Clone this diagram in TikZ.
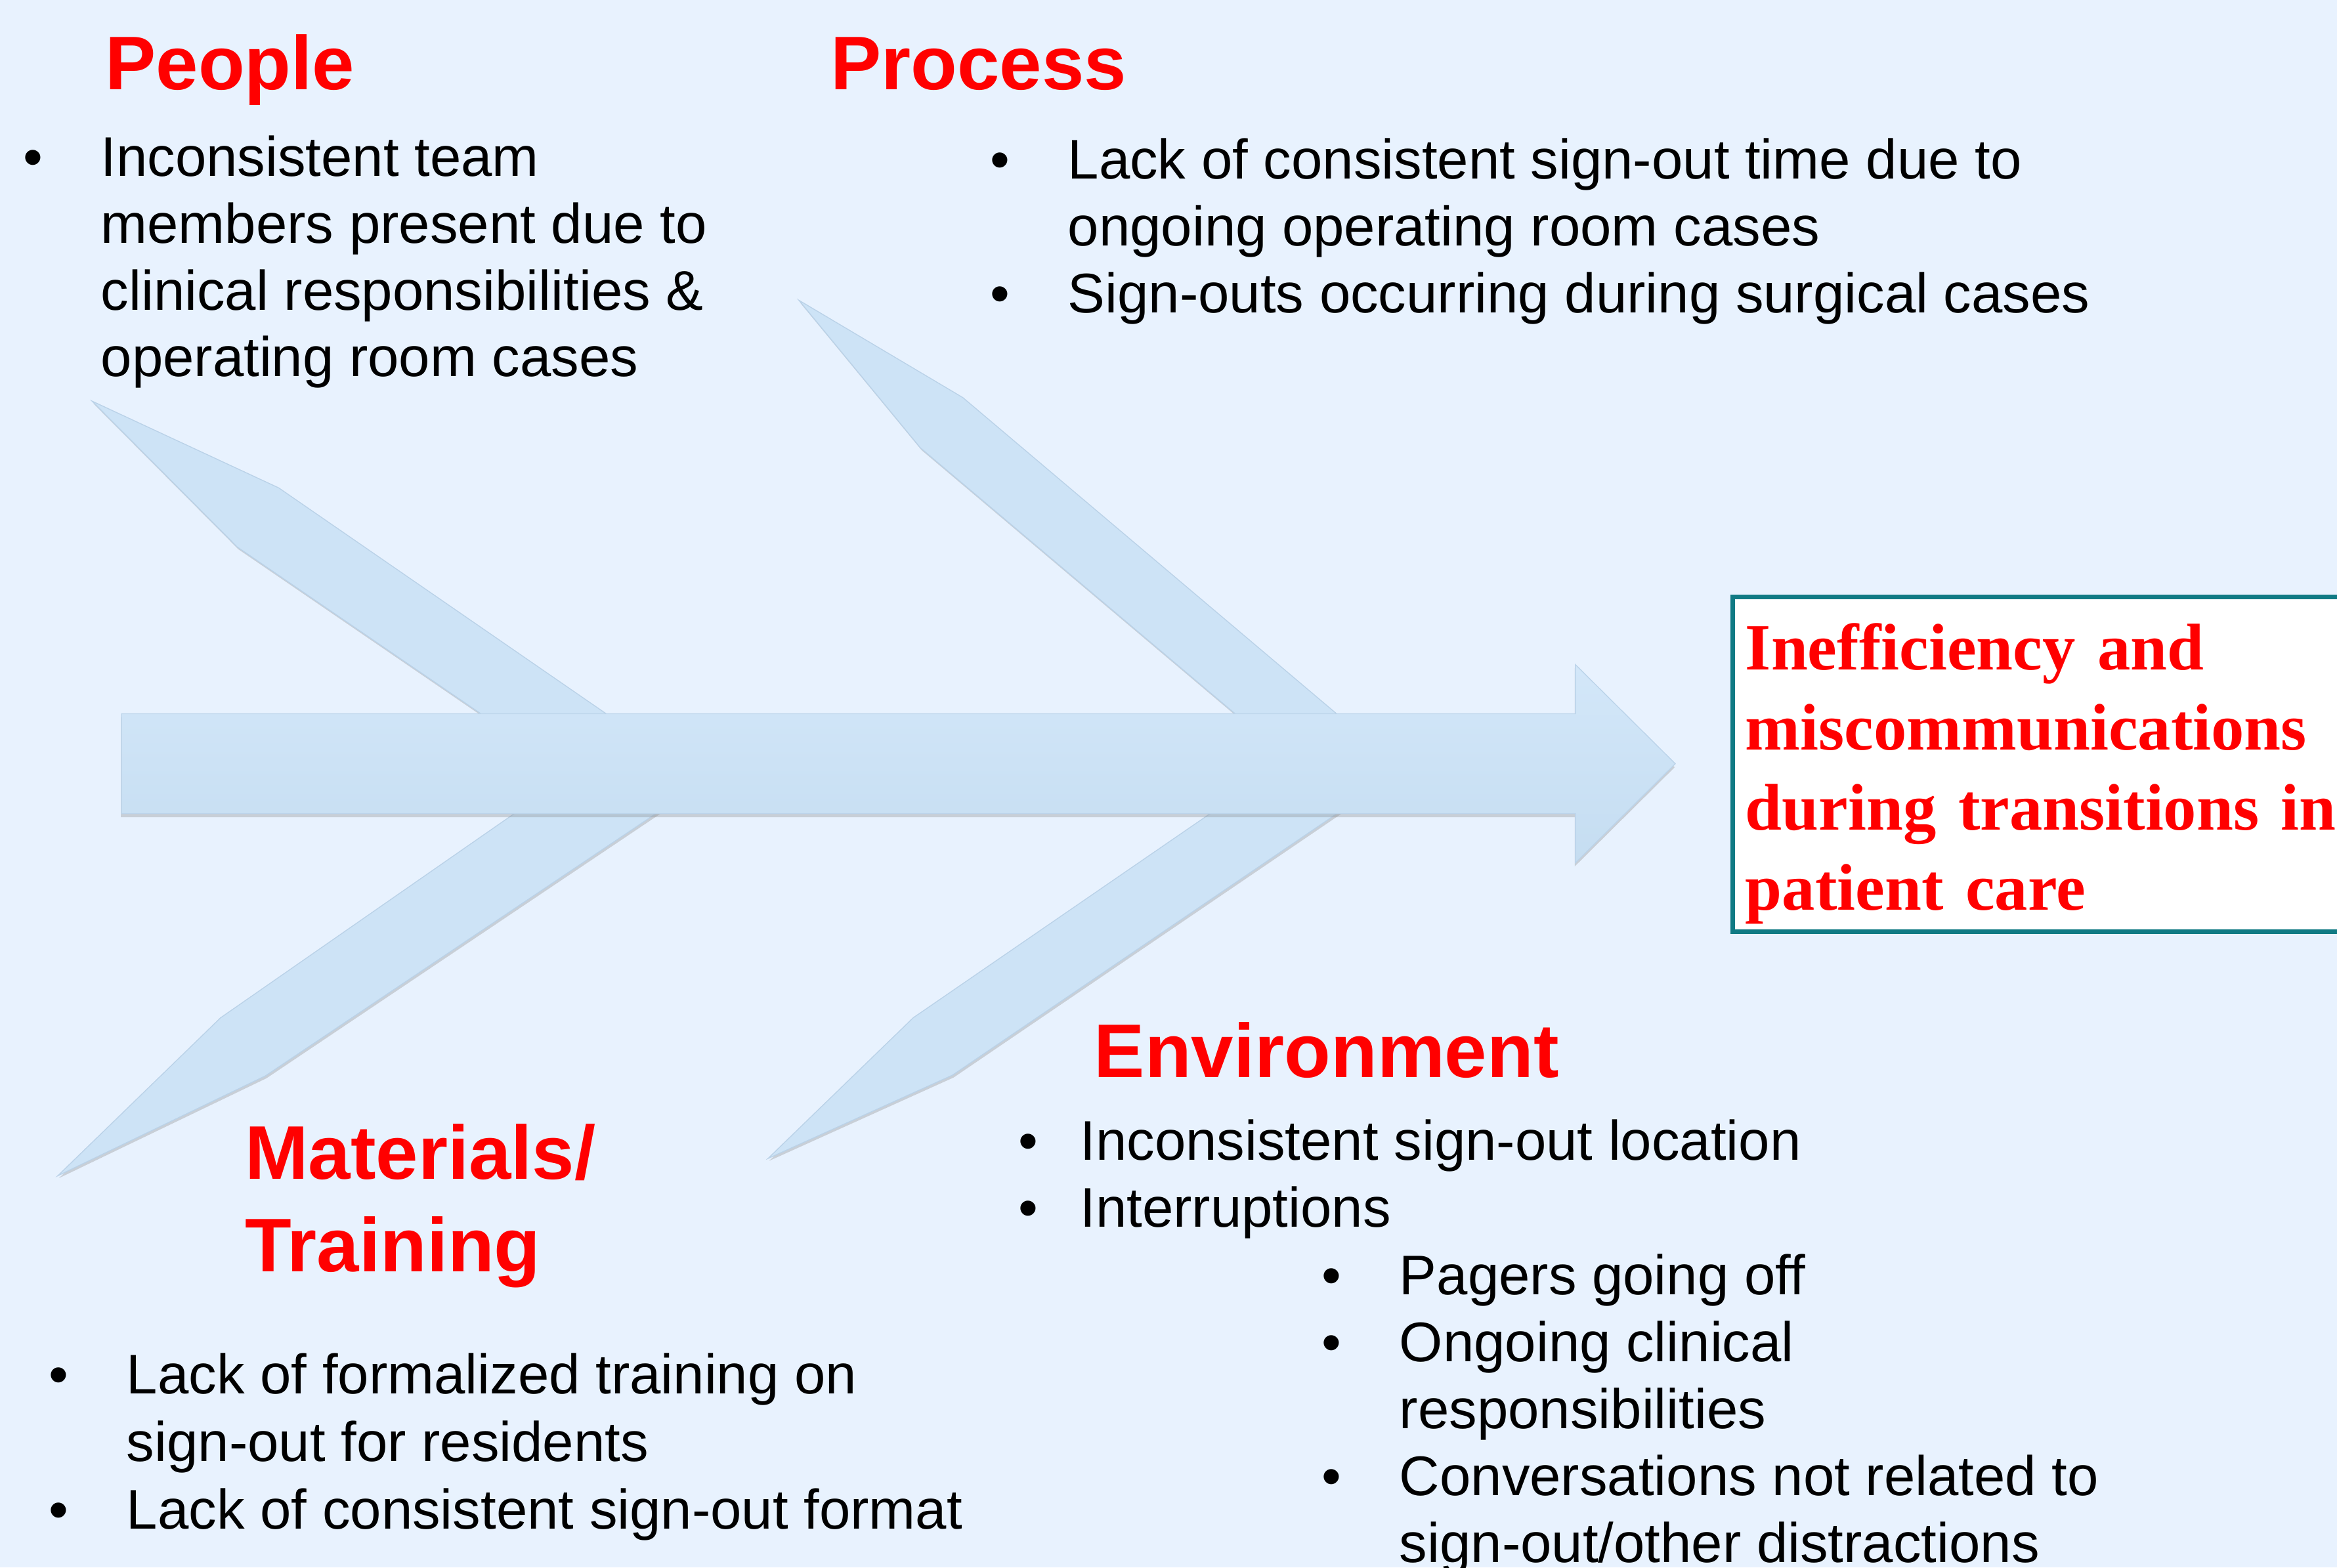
\documentclass[tikz,border=0pt]{standalone}
\usepackage{fontspec}
\setmainfont{Liberation Sans}
\newfontfamily\effectfont{Liberation Serif}
\usetikzlibrary{shadows}

\definecolor{slidebg}{RGB}{232,242,254}
\definecolor{spinetop}{RGB}{211,231,249}
\definecolor{spinebot}{RGB}{197,221,241}
\definecolor{spineedge}{RGB}{188,212,234}
\definecolor{bonefill}{RGB}{205,227,246}
\definecolor{boneedge}{RGB}{186,210,232}
\definecolor{causered}{RGB}{255,0,0}
\definecolor{boxteal}{RGB}{16,122,132}

% bullet and continuation indent for the lists
\newcommand{\bul}{\makebox[26pt][l]{\textbullet}}
\newcommand{\cont}{\hspace*{26pt}}

\tikzset{
  bone/.style={fill=bonefill, draw=boneedge, line width=0.3pt,
    drop shadow={opacity=0.3, shadow xshift=0.4pt, shadow yshift=-0.8pt}},
  spine/.style={top color=spinetop, bottom color=spinebot, draw=spineedge,
    line width=0.3pt,
    drop shadow={opacity=0.3, shadow xshift=-0.2pt, shadow yshift=-1.2pt}},
  cause/.style={font=\bfseries\fontsize{25.5}{31}\selectfont, text=causered,
    inner sep=0pt, anchor=base west, align=left},
  items/.style={font=\fontsize{18.75}{22.4}\selectfont, inner sep=0pt,
    anchor=base west, align=left},
  effectbox/.style={draw=boxteal, line width=1.6pt, fill=white,
    anchor=north west, text width=220pt, align=left, text=causered,
    inner xsep=4.25pt, inner ysep=2.6pt,
    font=\effectfont\bfseries\fontsize{22.15}{26.85}\selectfont}
}

\begin{document}
\begin{tikzpicture}[x=0.5pt,y=-0.5pt]
  \useasboundingbox (0,0) rectangle (1568,1052);
  \clip (0,0) rectangle (1568,1052);
  \fill[slidebg] (0,0) rectangle (1568,1052);

  % bones
  \draw[bone] (61.8,269.2) -- (187,327.4) -- (422.7,490)
     -- (338.8,490) -- (159.1,367) -- cycle;
  \draw[bone] (536,201.5) -- (646,266.8) -- (909.8,490)
     -- (841.8,490) -- (617.5,300.5) -- cycle;
  \draw[bone] (38.8,789) -- (148,683) -- (362.3,534)
     -- (457.9,534) -- (178,722) -- cycle;
  \draw[bone] (515.3,777.4) -- (612.7,683) -- (829.4,534)
     -- (914.6,534) -- (639,721.5) -- cycle;

  % spine
  \draw[spine] (81.5,479) -- (1057,479) -- (1057,446) -- (1124,512.5)
     -- (1057,579) -- (1057,546) -- (81.5,546) -- cycle;

  % effect
  \node[effectbox] (effect) at (1161,399)
    {\rule{0pt}{21.9pt}Inefficiency and\\miscommunications\\during transitions in\\patient care};

  % causes (base = last line)
  \node[cause] (people) at (70.3,60.1) {People};
  \node[cause] (process) at (556.9,60.2) {Process};
  \node[cause] (materials) at (164,853.4) {Materials/\\Training};
  \node[cause] (environment) at (733.8,723.1) {Environment};

  \node[items] (peopleitems) at (15.3,252.8)
    {\bul Inconsistent team\\
     \cont members present due to\\
     \cont clinical responsibilities \&\\
     \cont operating room cases};
  \node[items, font=\fontsize{18.75}{22.5}\selectfont] (processitems) at (664.1,210)
    {\bul Lack of consistent sign-out time due to\\
     \cont ongoing operating room cases\\
     \bul Sign-outs occurring during surgical cases};
  \node[items, font=\fontsize{18.75}{22.65}\selectfont] (materialitems) at (32.6,1026)
    {\bul Lack of formalized training on\\
     \cont sign-out for residents\\
     \bul Lack of consistent sign-out format};
  \node[items, font=\fontsize{18.75}{22.5}\selectfont] (environmentitems) at (682.9,1048.6)
    {\makebox[20.75pt][l]{\textbullet}Inconsistent sign-out location\\
     \makebox[20.75pt][l]{\textbullet}Interruptions\\
     \hspace*{101.85pt}\bul Pagers going off\\
     \hspace*{101.85pt}\bul Ongoing clinical\\
     \hspace*{101.85pt}\cont responsibilities\\
     \hspace*{101.85pt}\bul Conversations not related to\\
     \hspace*{101.85pt}\cont sign-out/other distractions};
\end{tikzpicture}
\end{document}
